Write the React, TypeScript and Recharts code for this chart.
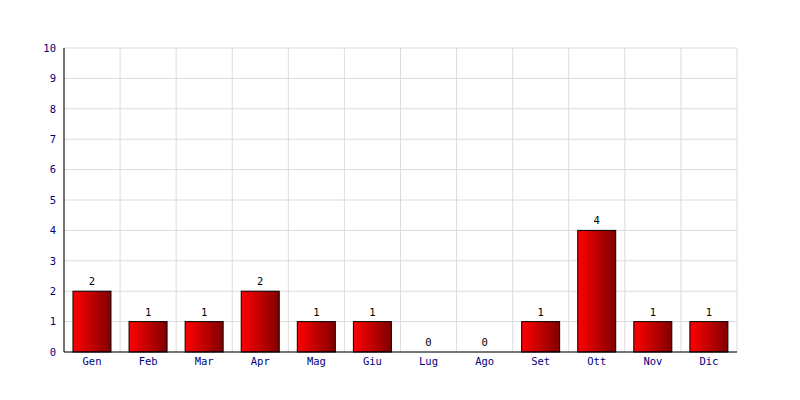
import React from 'react';
import { BarChart, Bar, XAxis, YAxis, CartesianGrid } from 'recharts';

const months = ['Gen', 'Feb', 'Mar', 'Apr', 'Mag', 'Giu', 'Lug', 'Ago', 'Set', 'Ott', 'Nov', 'Dic'];
const counts = [2, 1, 1, 2, 1, 1, 0, 0, 1, 4, 1, 1];
const yTicks = [0, 1, 2, 3, 4, 5, 6, 7, 8, 9, 10];

const data = months.map((m, i) => ({ month: m, value: counts[i] }));

const font = '"DejaVu Sans Mono", monospace';

// bar plus its value above it; zero bars still get their "0"
const BarWithValue = (props: any) => {
  const { x, y, width, height, value } = props;
  const v = Array.isArray(value) ? value[1] - value[0] : value;
  return (
    <g>
      {height > 0 && (
        <rect x={x} y={y} width={width} height={height} fill="url(#redBar)" stroke="#000" strokeWidth={1} />
      )}
      <text x={x + width / 2} y={y - 6} textAnchor="middle" fill="#000" fontSize={10.5} fontFamily={font}>
        {v}
      </text>
    </g>
  );
};

const App: React.FC = () => {
  // vertical grid lines sit on category boundaries, not on tick centres
  const boundaries = ({ offset }: any) =>
    Array.from({ length: months.length + 1 }, (_, i) => offset.left + (i * offset.width) / months.length);

  return (
    <div style={{ position: 'absolute', left: 0, top: 0, width: 800, height: 400, background: '#fff' }}>
      <BarChart
        width={800}
        height={400}
        data={data}
        margin={{ top: 48, right: 63, bottom: 28, left: 24 }}
        barCategoryGap="16%"
      >
        <defs>
          <linearGradient id="redBar" x1="0" y1="0" x2="1" y2="0">
            <stop offset="0%" stopColor="#ff0000" />
            <stop offset="100%" stopColor="#800000" />
          </linearGradient>
        </defs>
        <CartesianGrid stroke="#dcdcdc" verticalCoordinatesGenerator={boundaries} />
        <XAxis
          dataKey="month"
          height={20}
          axisLine={{ stroke: '#000' }}
          tickLine={false}
          tick={{ fill: '#000080', fontSize: 10.5, fontFamily: font }}
          tickMargin={0}
          interval={0}
        />
        <YAxis
          width={40}
          domain={[0, 10]}
          ticks={yTicks}
          allowDecimals={false}
          axisLine={{ stroke: '#000' }}
          tickLine={false}
          tick={{ fill: '#000080', fontSize: 10.5, fontFamily: font }}
        />
        <Bar dataKey="value" shape={BarWithValue} isAnimationActive={false} />
      </BarChart>
    </div>
  );
};

export default App;
